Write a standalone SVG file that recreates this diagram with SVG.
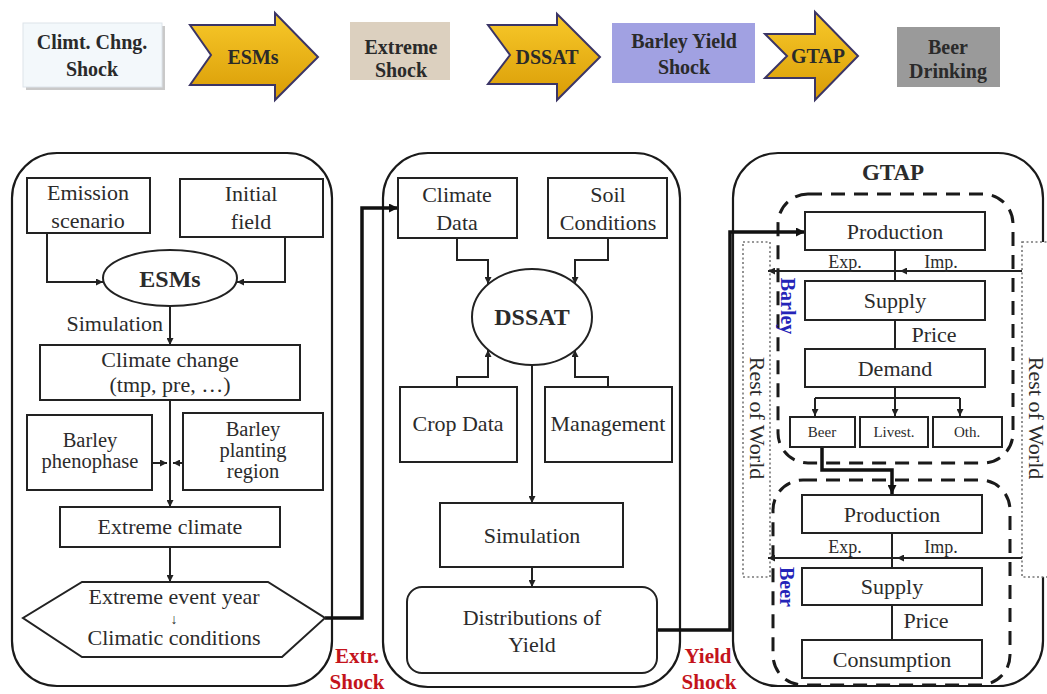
<svg xmlns="http://www.w3.org/2000/svg" width="1047" height="694" viewBox="0 0 1047 694">
  <defs>
    <linearGradient id="gold" x1="0" y1="0" x2="0" y2="1">
      <stop offset="0" stop-color="#f8c92a"/>
      <stop offset="1" stop-color="#d99c06"/>
    </linearGradient>
    <marker id="ah" viewBox="0 0 10 10" refX="10" refY="5" markerWidth="7" markerHeight="7" markerUnits="userSpaceOnUse" orient="auto">
      <path d="M0,0 L10,5 L0,10 z" fill="#222"/>
    </marker>
    <marker id="ahb" viewBox="0 0 10 10" refX="10" refY="5" markerWidth="9" markerHeight="9" markerUnits="userSpaceOnUse" orient="auto">
      <path d="M0,0 L10,5 L0,10 z" fill="#111"/>
    </marker>
    <style>
      .t { font-family: "Liberation Serif", "Times New Roman", serif; font-size: 22px; fill: #2b2b2b; text-anchor: middle; }
      .b { font-weight: bold; }
      .hd { font-family: "Liberation Serif", "Times New Roman", serif; font-size: 20px; font-weight: bold; fill: #2a2a2a; text-anchor: middle; }
      .red { font-family: "Liberation Serif", "Times New Roman", serif; font-size: 21px; font-weight: bold; fill: #c4141c; text-anchor: middle; }
      .blue { font-family: "Liberation Serif", "Times New Roman", serif; font-size: 20px; font-weight: bold; fill: #2424b8; text-anchor: middle; }
      .sm { font-size: 15px; }
      .ex { font-size: 18px; }
      .tight { font-size: 20.5px; }
      .box { fill: #fff; stroke: #222; stroke-width: 2; }
      .panel { fill: #fff; stroke: #1a1a1a; stroke-width: 2.2; }
      .ln { fill: none; stroke: #222; stroke-width: 2; }
      .thick { fill: none; stroke: #111; stroke-width: 3.5; }
      .dash { fill: none; stroke: #1a1a1a; stroke-width: 3; stroke-dasharray: 14 9; }
      .dot { fill: #fff; stroke: #777; stroke-width: 1.6; stroke-dasharray: 2 2.5; }
      .arrowshape { fill: url(#gold); stroke: #3b3566; stroke-width: 2; }
    </style>
  </defs>

  <rect width="1047" height="694" fill="#fff"/>

  <!-- top process chain -->
  <g id="chain">
    <g id="box-climt">
      <rect x="26" y="26" width="139" height="64" fill="#c9c9c9"/>
      <rect x="23" y="23" width="139" height="64" fill="#f3f8fb" stroke="#dde4ea" stroke-width="1"/>
      <text class="hd" x="92" y="49">Climt. Chng.</text>
      <text class="hd" x="92" y="76">Shock</text>
    </g>
    <g id="arrow-esms">
      <polygon class="arrowshape" points="190,25 275,25 275,13 318,57 275,100 275,85 190,85 211,55"/>
      <text class="hd" x="253" y="64">ESMs</text>
    </g>
    <g id="box-extreme">
      <rect x="350" y="22" width="100" height="58" fill="#dcd0bf"/>
      <text class="hd" x="401" y="54">Extreme</text>
      <text class="hd" x="401" y="77">Shock</text>
    </g>
    <g id="arrow-dssat">
      <polygon class="arrowshape" points="488,25 557,25 557,14 600,57 557,100 557,84 488,84 510,55"/>
      <text class="hd" x="547" y="64">DSSAT</text>
    </g>
    <g id="box-barley">
      <rect x="612" y="23" width="143" height="60" fill="#a1a1e2"/>
      <text class="hd" x="684" y="48">Barley Yield</text>
      <text class="hd" x="684" y="74">Shock</text>
    </g>
    <g id="arrow-gtap">
      <polygon class="arrowshape" points="765,34 815,34 815,12 858,56 815,100 815,78 765,78 787,56"/>
      <text class="hd" x="818" y="63">GTAP</text>
    </g>
    <g id="box-beer">
      <rect x="897" y="27" width="103" height="60" fill="#9a9a9a"/>
      <text class="hd" x="948" y="54">Beer</text>
      <text class="hd" x="948" y="78">Drinking</text>
    </g>
  </g>

  <!-- panels -->
  <g id="panel-esms"><rect class="panel" x="12" y="153" width="320" height="533" rx="45"/></g>
  <g id="panel-dssat"><rect class="panel" x="383" y="153" width="297" height="534" rx="45"/></g>
  <g id="panel-gtap">
    <rect class="panel" x="733" y="153" width="310" height="533" rx="45"/>
    <text class="t b" x="893" y="180" style="font-size:23px">GTAP</text>
  </g>

  <!-- GTAP region frames -->
  <g id="row-left">
    <rect class="dot" x="743" y="242" width="27" height="335"/>
    <text class="t" transform="translate(750,418) rotate(90)">Rest of World</text>
  </g>
  <g id="row-right">
    <rect class="dot" x="1022" y="242" width="30" height="335"/>
    <text class="t" transform="translate(1029,418) rotate(90)">Rest of World</text>
  </g>
  <g id="barley-sector">
    <rect class="dash" x="778" y="194" width="235" height="269" rx="30"/>
    <text class="blue" transform="translate(781,306) rotate(90)">Barley</text>
  </g>
  <g id="beer-sector">
    <rect class="dash" x="773" y="480" width="237" height="205" rx="30"/>
    <text class="blue" transform="translate(780,587) rotate(90)">Beer</text>
  </g>

  <!-- connectors -->
  <g id="connectors">
    <!-- ESMs panel -->
    <path class="ln" d="M47,233 V282 H103" marker-end="url(#ah)"/>
    <path class="ln" d="M285,237 V282 H237" marker-end="url(#ah)"/>
    <path class="ln" d="M170,306 V345" marker-end="url(#ah)"/>
    <path class="ln" d="M170,400 V507" marker-end="url(#ah)"/>
    <path class="ln" d="M150,463 H167" marker-end="url(#ah)"/>
    <path class="ln" d="M183,463 H173" marker-end="url(#ah)"/>
    <path class="ln" d="M170,547 V582" marker-end="url(#ah)"/>
    <!-- extreme shock hand-over -->
    <path class="thick" d="M325,618 H362 V208 H398" marker-end="url(#ahb)"/>
    <!-- DSSAT panel -->
    <path class="ln" d="M457,238 V260 H488 V284" marker-end="url(#ah)"/>
    <path class="ln" d="M608,238 V260 H575 V284" marker-end="url(#ah)"/>
    <path class="ln" d="M457,387 V377 H488 V350" marker-end="url(#ah)"/>
    <path class="ln" d="M608,387 V377 H575 V350" marker-end="url(#ah)"/>
    <path class="ln" d="M532,365 V503" marker-end="url(#ah)"/>
    <path class="ln" d="M532,567 V587" marker-end="url(#ah)"/>
    <!-- yield shock hand-over -->
    <path class="thick" d="M657,630 H730 V232 H805" marker-end="url(#ahb)"/>
    <!-- barley market -->
    <path class="ln" d="M895,250 V281"/>
    <path class="ln" d="M1022,271 H900" marker-end="url(#ah)"/>
    <path class="ln" d="M900,271 H768" marker-end="url(#ah)"/>
    <path class="ln" d="M895,320 V349"/>
    <path class="ln" d="M895,387 V398"/>
    <path class="ln" d="M815,398 H960"/>
    <path class="ln" d="M815,398 V416" marker-end="url(#ah)"/>
    <path class="ln" d="M895,398 V416" marker-end="url(#ah)"/>
    <path class="ln" d="M960,398 V416" marker-end="url(#ah)"/>
    <path class="thick" d="M822,447 V470 H892 V494" marker-end="url(#ahb)"/>
    <!-- beer market -->
    <path class="ln" d="M892,533 V568"/>
    <path class="ln" d="M1022,558 H897" marker-end="url(#ah)"/>
    <path class="ln" d="M897,558 H768" marker-end="url(#ah)"/>
    <path class="ln" d="M892,605 V640"/>
  </g>

  <!-- ESMs panel nodes -->
  <g id="emission">
    <rect class="box" x="27" y="178" width="123" height="55"/>
    <text class="t" x="88" y="200">Emission</text>
    <text class="t" x="88" y="228">scenario</text>
  </g>
  <g id="initial">
    <rect class="box" x="180" y="179" width="143" height="58"/>
    <text class="t" x="251" y="201">Initial</text>
    <text class="t" x="251" y="229">field</text>
  </g>
  <g id="esms">
    <ellipse class="box" cx="170" cy="278" rx="67" ry="28"/>
    <text class="t b" x="170" y="287" style="font-size:24px">ESMs</text>
  </g>
  <text class="t" x="163" y="331" style="text-anchor:end">Simulation</text>
  <g id="climate-change">
    <rect class="box" x="40" y="345" width="260" height="55"/>
    <text class="t" x="170" y="367">Climate change</text>
    <text class="t" x="170" y="392">(tmp, pre, …)</text>
  </g>
  <g id="phenophase">
    <rect class="box" x="27" y="415" width="125" height="75"/>
    <text class="t tight" x="90" y="447">Barley</text>
    <text class="t tight" x="90" y="468">phenophase</text>
  </g>
  <g id="planting">
    <rect class="box" x="183" y="413" width="140" height="77"/>
    <text class="t tight" x="253" y="436">Barley</text>
    <text class="t tight" x="253" y="457">planting</text>
    <text class="t tight" x="253" y="478">region</text>
  </g>
  <g id="extreme-climate">
    <rect class="box" x="60" y="507" width="220" height="40"/>
    <text class="t" x="170" y="534">Extreme climate</text>
  </g>
  <g id="extreme-event">
    <polygon class="box" points="82,582 268,582 325,618 282,657 82,657 23,618"/>
    <text class="t" x="174" y="604">Extreme event year</text>
    <text class="t" x="174" y="624" style="font-size:14px">↓</text>
    <text class="t" x="174" y="645">Climatic conditions</text>
  </g>
  <g id="label-extr">
    <text class="red" x="357" y="663">Extr.</text>
    <text class="red" x="357" y="689">Shock</text>
  </g>

  <!-- DSSAT panel nodes -->
  <g id="climate-data">
    <rect class="box" x="398" y="178" width="119" height="60"/>
    <text class="t" x="457" y="202">Climate</text>
    <text class="t" x="457" y="230">Data</text>
  </g>
  <g id="soil">
    <rect class="box" x="548" y="178" width="119" height="60"/>
    <text class="t" x="608" y="202">Soil</text>
    <text class="t" x="608" y="230">Conditions</text>
  </g>
  <g id="dssat">
    <ellipse class="box" cx="532" cy="317" rx="60" ry="48"/>
    <text class="t b" x="532" y="325" style="font-size:24px">DSSAT</text>
  </g>
  <g id="crop-data">
    <rect class="box" x="400" y="387" width="117" height="75"/>
    <text class="t" x="458" y="431">Crop Data</text>
  </g>
  <g id="management">
    <rect class="box" x="545" y="387" width="127" height="75"/>
    <text class="t" x="608" y="431">Management</text>
  </g>
  <g id="simulation">
    <rect class="box" x="440" y="503" width="183" height="64"/>
    <text class="t" x="532" y="543">Simulation</text>
  </g>
  <g id="distributions">
    <rect class="box" x="407" y="587" width="250" height="86" rx="15"/>
    <text class="t" x="532" y="625">Distributions of</text>
    <text class="t" x="532" y="652">Yield</text>
  </g>
  <g id="label-yield">
    <text class="red" x="708" y="663">Yield</text>
    <text class="red" x="709" y="689">Shock</text>
  </g>

  <!-- GTAP barley sector -->
  <g id="barley-production">
    <rect class="box" x="805" y="212" width="180" height="38"/>
    <text class="t" x="895" y="239">Production</text>
  </g>
  <text class="t ex" x="845" y="268">Exp.</text>
  <text class="t ex" x="941" y="268">Imp.</text>
  <g id="barley-supply">
    <rect class="box" x="805" y="281" width="180" height="39"/>
    <text class="t" x="895" y="308">Supply</text>
  </g>
  <text class="t" x="934" y="342">Price</text>
  <g id="barley-demand">
    <rect class="box" x="805" y="349" width="180" height="38"/>
    <text class="t" x="895" y="376">Demand</text>
  </g>
  <g id="use-beer">
    <rect class="box" x="790" y="417" width="65" height="30"/>
    <text class="t sm" x="822" y="437">Beer</text>
  </g>
  <g id="use-livest">
    <rect class="box" x="860" y="417" width="68" height="30"/>
    <text class="t sm" x="894" y="437">Livest.</text>
  </g>
  <g id="use-oth">
    <rect class="box" x="933" y="417" width="69" height="30"/>
    <text class="t sm" x="967" y="437">Oth.</text>
  </g>

  <!-- GTAP beer sector -->
  <g id="beer-production">
    <rect class="box" x="802" y="495" width="180" height="38"/>
    <text class="t" x="892" y="522">Production</text>
  </g>
  <text class="t ex" x="845" y="553">Exp.</text>
  <text class="t ex" x="941" y="553">Imp.</text>
  <g id="beer-supply">
    <rect class="box" x="802" y="568" width="180" height="37"/>
    <text class="t" x="892" y="594">Supply</text>
  </g>
  <text class="t" x="926" y="628">Price</text>
  <g id="beer-consumption">
    <rect class="box" x="802" y="640" width="180" height="38"/>
    <text class="t" x="892" y="667">Consumption</text>
  </g>
</svg>
